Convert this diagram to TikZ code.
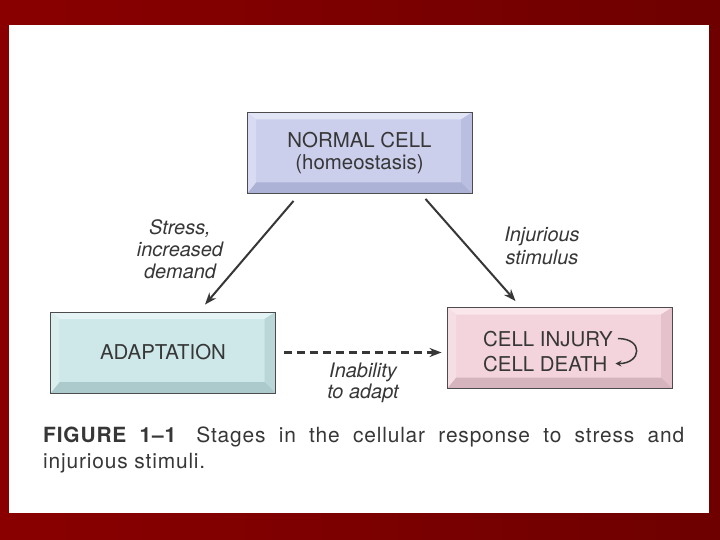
\documentclass[tikz,border=0pt]{standalone}
\usepackage{fontspec}
\setmainfont{TeX Gyre Heros}
\usepackage{xcolor}
\usetikzlibrary{arrows.meta,positioning}

\definecolor{frameleft}{RGB}{138,0,0}
\definecolor{frameright}{RGB}{110,0,0}
\definecolor{ink}{RGB}{55,55,55}
% box faces and bevels
\definecolor{normface}{RGB}{203,207,236}
\definecolor{normtop}{RGB}{226,229,246}
\definecolor{normright}{RGB}{186,190,224}
\definecolor{normbot}{RGB}{172,177,214}
\definecolor{adapface}{RGB}{206,232,233}
\definecolor{adaptop}{RGB}{228,243,243}
\definecolor{adapright}{RGB}{186,214,215}
\definecolor{adapbot}{RGB}{172,202,203}
\definecolor{injface}{RGB}{243,212,220}
\definecolor{injtop}{RGB}{249,231,236}
\definecolor{injright}{RGB}{228,193,203}
\definecolor{injbot}{RGB}{214,180,190}

\begin{document}
\begin{tikzpicture}[
    x=1bp, y=-1bp,
    font=\fontsize{20.5}{22}\selectfont,
    >=Stealth,
    % Styles
    bevelbox/.style n args={4}{rectangle, draw=black!70, line width=0.9bp, fill=#1,
        minimum width=225bp, minimum height=81bp, inner sep=0pt, text=ink, align=center,
        path picture={
            \coordinate (nw) at (path picture bounding box.north west);
            \coordinate (ne) at (path picture bounding box.north east);
            \coordinate (sw) at (path picture bounding box.south west);
            \coordinate (se) at (path picture bounding box.south east);
            \fill[#2] (nw) -- (ne) -- ([shift={(-11bp,-7bp)}]ne) -- ([shift={(9bp,-7bp)}]nw) -- cycle;
            \fill[#3] (ne) -- (se) -- ([shift={(-11bp,11bp)}]se) -- ([shift={(-11bp,-7bp)}]ne) -- cycle;
            \fill[#4] (se) -- (sw) -- ([shift={(9bp,11bp)}]sw) -- ([shift={(-11bp,11bp)}]se) -- cycle;
            \fill[#2!55!#1] (sw) -- (nw) -- ([shift={(9bp,-7bp)}]nw) -- ([shift={(9bp,11bp)}]sw) -- cycle;
        }},
    boxtext/.style={inner sep=0pt, text=ink},
    label/.style={inner sep=0pt, text=ink, align=center, font=\fontsize{20}{22.5}\selectfont\itshape},
    captext/.style={inner sep=0pt, text=ink, font=\fontsize{21}{26}\selectfont\addfontfeatures{LetterSpace=4}},
    arrow/.style={-{Stealth[length=12bp,width=9bp]}, line width=2bp, draw=ink},
    dasharrow/.style={-{Stealth[length=12bp,width=9bp]}, line width=2.6bp, draw=ink, dash pattern=on 8bp off 5bp},
    curl/.style={-{Stealth[length=6bp,width=6bp]}, line width=1.5bp, draw=ink}
]

% --- Frame and page ---
\useasboundingbox (0,0) rectangle (720,540);
\shade[left color=frameleft, right color=frameright] (0,0) rectangle (720,540);
\fill[white] (9,25) rectangle (709,513);

% --- Boxes ---
\node[bevelbox={normface}{normtop}{normright}{normbot}] (normal) at (359.5,153) {NORMAL CELL\\(homeostasis)};
\node[bevelbox={adapface}{adaptop}{adapright}{adapbot}] (adapt) at (163,352.5) {ADAPTATION};
\node[bevelbox={injface}{injtop}{injright}{injbot}] (injury) at (559.5,348) {};
\node[boxtext, anchor=base west] (injA) at (483,346) {CELL INJURY};
\node[boxtext, anchor=base west] (injB) at (483,371) {CELL DEATH};

% --- Labels ---
\node[label, anchor=north] (stress) at (180,219) {Stress,\\increased\\demand};
\node[label, anchor=north] (injurious) at (542,227) {Injurious\\stimulus};
\node[label, anchor=north, font=\fontsize{20}{20.5}\selectfont\itshape] (inability) at (363,363) {Inability\\to adapt};

% --- Connections ---
\draw[arrow] ([xshift=-66bp,yshift=-7bp]normal.south) -- ([xshift=42bp,yshift=7bp]adapt.north);
\draw[arrow] ([xshift=66bp,yshift=-5bp]normal.south) -- ([xshift=-44bp,yshift=6bp]injury.north);
\draw[dasharrow] ([xshift=8bp]adapt.east) -- ([xshift=-5bp]injury.west |- adapt.east);
\draw[curl] ([xshift=5bp]injA.east) .. controls ([xshift=31bp]injA.east) and ([xshift=34bp]injB.east) .. ([xshift=8bp]injB.east);

% --- Caption ---
\node[captext, anchor=base west] (cap1) at (43,442)
    {\makebox[641bp][s]{\textbf{FIGURE 1--1}\hspace{6bp} Stages in the cellular response to stress and}};
\node[captext, anchor=base west] (cap2) at ([yshift=-26bp]cap1.base west) {injurious stimuli.};

\end{tikzpicture}
\end{document}
